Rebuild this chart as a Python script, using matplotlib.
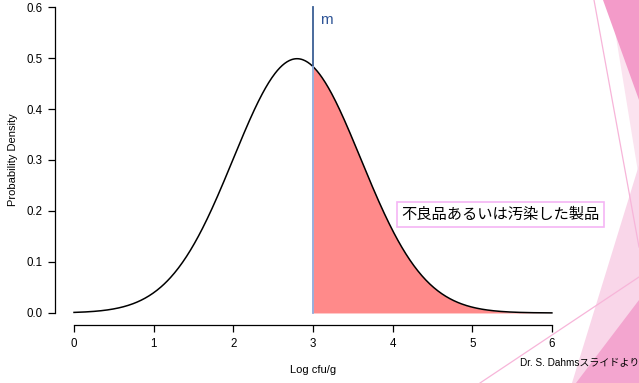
import numpy as np
import matplotlib
matplotlib.use("Agg")
import matplotlib.pyplot as plt
from matplotlib.patches import Polygon
from matplotlib.lines import Line2D

# ---- data ----
mean_log = 2.8          # peak position of the density curve
sd_log = 0.8            # spread (peak height ~0.5)
x_start, x_end = 0.0, 6.0
limit_m = 3.0           # vertical marker "m"
marker_top = 0.6
x_ticks = [0, 1, 2, 3, 4, 5, 6]
y_ticks = [0.0, 0.1, 0.2, 0.3, 0.4, 0.5, 0.6]
y_ticklabels = ["0.0", "0.1", "0.2", "0.3", "0.4", "0.5", "0.6"]
x_label = "Log cfu/g"
y_label = "Probability Density"
marker_label = "m"
box_label = "不良品あるいは汚染した製品"
credit = "Dr. S. Dahmsスライドより"

W, H = 639, 383
fig = plt.figure(figsize=(W / 100, H / 100), dpi=100)
plt.rcParams['font.family'] = ['Liberation Sans', 'Noto Sans CJK JP', 'DejaVu Sans']

def px(x, y):
    return (x / W, 1 - y / H)

# decorative pink shapes (slide background)
def tri(pts, color):
    fig.add_artist(Polygon([px(*p) for p in pts], closed=True, transform=fig.transFigure,
                           facecolor=color, edgecolor='none', zorder=0))

tri([(610, 0), (639, 0), (639, 178)], "#FBE3EF")
tri([(603, 0), (639, 0), (639, 100)], "#F39BC9")
tri([(639, 165), (572, 383), (639, 383)], "#F9D6E9")
tri([(639, 300), (576, 383), (639, 383)], "#F3A5CF")
for (a, b) in [((594, 0), (639, 247)), ((480, 383), (639, 277))]:
    p1, p2 = px(*a), px(*b)
    fig.add_artist(Line2D([p1[0], p2[0]], [p1[1], p2[1]], transform=fig.transFigure,
                          color="#F7B5D9", lw=0.9, zorder=0))

# axes
left, right = 54.9, 571.0
bottom, top = 325.2, -5.2
ax = fig.add_axes([left / W, 1 - bottom / H, (right - left) / W, (bottom - top) / H])
ax.patch.set_alpha(0)
ax.set_xlim(-0.24, 6.24)
ax.set_ylim(-0.024, 0.624)

x = np.linspace(x_start, x_end, 600)
y = np.exp(-0.5 * ((x - mean_log) / sd_log) ** 2) / (sd_log * np.sqrt(2 * np.pi))
ym = np.exp(-0.5 * ((limit_m - mean_log) / sd_log) ** 2) / (sd_log * np.sqrt(2 * np.pi))

mask = x >= limit_m
ax.fill_between(x[mask], 0, y[mask], color="#FF8A8A", lw=0, zorder=2)
ax.plot(x, y, color="black", lw=1.1, zorder=3)
ax.plot([limit_m, limit_m], [ym, marker_top], color="#3A5F94", lw=1.3, zorder=4)
ax.plot([limit_m, limit_m], [0, ym], color="#8FA8D8", lw=1.3, zorder=4)
ax.text(limit_m + 0.09, 0.575, marker_label, color="#2F5597", fontsize=11,
        ha='left', va='center')

ax.text(5.35, 0.193, box_label, fontsize=11, family=['Noto Sans CJK JP', 'DejaVu Sans'],
        ha='center', va='center', clip_on=False, zorder=5,
        bbox=dict(boxstyle='square,pad=0.28', facecolor='white', edgecolor='#F5B5F5', lw=1.2))

for s in ['top', 'right']:
    ax.spines[s].set_visible(False)
ax.spines['left'].set_bounds(0, 0.6)
ax.spines['bottom'].set_bounds(0, 6)
for s in ['left', 'bottom']:
    ax.spines[s].set_linewidth(0.9)
ax.set_xticks(x_ticks)
ax.set_xticklabels([str(t) for t in x_ticks])
ax.set_yticks(y_ticks)
ax.set_yticklabels(y_ticklabels)
ax.tick_params(axis='both', length=5, width=0.9, labelsize=8.3, pad=4, colors='black')

fig.text(*px(313, 370), x_label, fontsize=8, ha='center', va='center')
fig.text(*px(13, 160), y_label, fontsize=8, ha='center', va='center', rotation=90)
fig.text(*px(520, 362), credit, fontsize=7.2, ha='left', va='center',
         family=['Liberation Sans', 'Noto Sans CJK JP'])

fig.savefig("out.png", dpi=100)
